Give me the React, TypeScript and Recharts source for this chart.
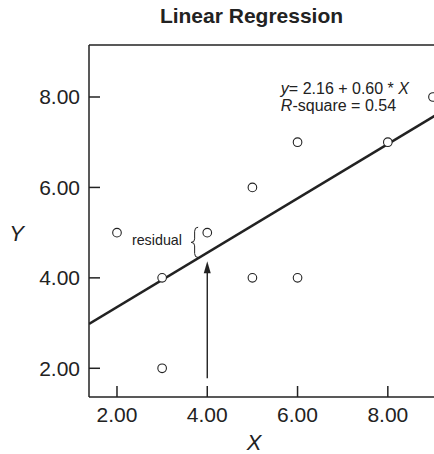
import React from 'react';
import { ScatterChart, Scatter, XAxis, YAxis, ReferenceLine, ReferenceDot } from 'recharts';

const xValues = [2, 3, 3, 4, 5, 5, 6, 6, 8, 9];
const yValues = [5, 4, 2, 5, 6, 4, 7, 4, 7, 8];
const xTicks = [2, 4, 6, 8];
const yTicks = [2, 4, 6, 8];
const fitLineX = [1.38, 9.2];
const fitLineY = [2.98, 7.68];
const arrowX = [4, 4];
const arrowY = [1.78, 4.37];
const braceX = [3.72, 3.72];
const braceY = [5.12, 4.45];
const xDomain = [1.38, 9.2];
const yDomain = [1.365, 9.15];

const points = xValues.map((x, i) => ({ x, y: yValues[i] }));
const fitSegment = fitLineX.map((x, i) => ({ x, y: fitLineY[i] }));
const arrowSegment = arrowX.map((x, i) => ({ x, y: arrowY[i] }));
const braceSegment = braceX.map((x, i) => ({ x, y: braceY[i] }));

const FONT = '"Liberation Sans", Arial, Helvetica, sans-serif';
const INK = '#222';

const YTick = (props: any) => {
  const { x, y, payload } = props;
  return (
    <g>
      <text x={x} y={y} dy="0.355em" textAnchor="end" fontSize={21} fontFamily={FONT} fill={INK}>
        {Number(payload.value).toFixed(2)}
      </text>
      <line x1={x + 9} x2={x + 20} y1={y} y2={y} stroke={INK} strokeWidth={1.5} />
    </g>
  );
};

const XTick = (props: any) => {
  const { x, y, payload } = props;
  return (
    <g>
      <text x={x} y={y} dy="0.71em" textAnchor="middle" fontSize={21} fontFamily={FONT} fill={INK}>
        {Number(payload.value).toFixed(2)}
      </text>
      <line x1={x} x2={x} y1={y - 10} y2={y - 21} stroke={INK} strokeWidth={1.5} />
    </g>
  );
};

const Circle = (props: any) => (
  <circle cx={props.cx} cy={props.cy} r={4.3} fill="#fff" stroke={INK} strokeWidth={1.1} />
);

const Arrow = (props: any) => {
  const { x1, y1, x2, y2 } = props;
  const head = 12;
  const half = 3.5;
  return (
    <g>
      <line x1={x1} y1={y1} x2={x2} y2={y2 + head - 1} stroke={INK} strokeWidth={1.4} />
      <polygon points={`${x2},${y2} ${x2 - half},${y2 + head} ${x2 + half},${y2 + head}`} fill={INK} />
    </g>
  );
};

const Brace = (props: any) => {
  const { x1, y1, y2 } = props;
  const x = x1;
  const mid = (y1 + y2) / 2;
  const d = `M ${x + 3.5} ${y1} Q ${x} ${y1} ${x} ${y1 + 4} L ${x} ${mid - 3.5} Q ${x} ${mid} ${x - 3.5} ${mid} Q ${x} ${mid} ${x} ${mid + 3.5} L ${x} ${y2 - 4} Q ${x} ${y2} ${x + 3.5} ${y2}`;
  return <path d={d} fill="none" stroke={INK} strokeWidth={1} />;
};

const Equation = (props: any) => (
  <text x={props.cx} y={props.cy} fontSize={16} fontFamily={FONT} fill={INK}>
    <tspan fontStyle="italic">y</tspan>
    <tspan>= 2.16 + 0.60 * </tspan>
    <tspan fontStyle="italic">X</tspan>
    <tspan x={props.cx} dy={17.2} fontStyle="italic">R</tspan>
    <tspan>-square = 0.54</tspan>
  </text>
);

const ResidualLabel = (props: any) => (
  <text x={props.cx} y={props.cy} textAnchor="end" fontSize={14.3} fontFamily={FONT} fill={INK}>
    residual
  </text>
);

export default function App() {
  return (
    <div style={{ position: 'absolute', left: 0, top: 0, width: 434, height: 454, overflow: 'hidden', background: '#fff', fontFamily: FONT }}>
      <div style={{ position: 'absolute', left: 101.5, top: 5, width: 300, textAlign: 'center', fontSize: 21, lineHeight: '21px', fontWeight: 'bold', color: INK }}>
        Linear Regression
      </div>
      <div style={{ position: 'absolute', left: -0.5, top: 223.4, width: 34, textAlign: 'center', fontSize: 22, lineHeight: '22px', fontStyle: 'italic', color: INK }}>
        Y
      </div>
      <div style={{ position: 'absolute', left: 234, top: 432, width: 40, textAlign: 'center', fontSize: 22, lineHeight: '22px', fontStyle: 'italic', color: INK }}>
        X
      </div>
      <div style={{ position: 'absolute', left: 0, top: 0 }}>
        <ScatterChart width={460} height={454} margin={{ top: 45, right: 18, bottom: 0, left: 0 }}>
          <XAxis
            type="number"
            dataKey="x"
            domain={xDomain}
            ticks={xTicks}
            allowDataOverflow
            height={57}
            tickLine={false}
            tickSize={0}
            tickMargin={10}
            tick={XTick}
            axisLine={{ stroke: INK, strokeWidth: 1.5 }}
          />
          <YAxis
            type="number"
            dataKey="y"
            domain={yDomain}
            ticks={yTicks}
            allowDataOverflow
            width={89}
            tickLine={false}
            tickSize={0}
            tickMargin={9}
            tick={YTick}
            axisLine={{ stroke: INK, strokeWidth: 1.5 }}
          />
          <ReferenceLine y={yDomain[1]} stroke={INK} strokeWidth={1.5} ifOverflow="visible" />
          <ReferenceLine segment={fitSegment} stroke={INK} strokeWidth={2.6} ifOverflow="hidden" />
          <ReferenceLine segment={arrowSegment} shape={Arrow} ifOverflow="visible" />
          <ReferenceLine segment={braceSegment} shape={Brace} ifOverflow="visible" />
          <ReferenceDot x={5.63} y={8.07} r={0} shape={Equation} ifOverflow="visible" />
          <ReferenceDot x={3.44} y={4.72} r={0} shape={ResidualLabel} ifOverflow="visible" />
          <Scatter data={points} shape={Circle} isAnimationActive={false} />
        </ScatterChart>
      </div>
    </div>
  );
}
